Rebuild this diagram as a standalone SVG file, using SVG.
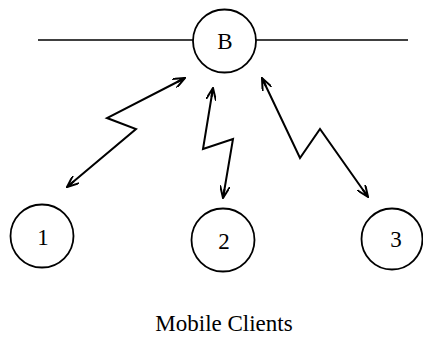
<svg xmlns="http://www.w3.org/2000/svg" width="423" height="339" viewBox="0 0 423 339">
<style>
.node circle{fill:#fff;stroke:#000;stroke-width:1.8}
.lbl{font-family:"Liberation Serif","Times New Roman",serif;font-size:23px;fill:#000;text-anchor:middle}
.wire{fill:none;stroke:#000;stroke-width:1.7}
.zap{fill:none;stroke:#000;stroke-width:2;stroke-linejoin:miter;marker-start:url(#ah);marker-end:url(#ah)}
</style>
<defs>
<marker id="ah" viewBox="0 0 13 10" refX="12" refY="5" markerWidth="13" markerHeight="10" markerUnits="userSpaceOnUse" orient="auto-start-reverse">
<path d="M0,0 L12,5 L0,10 M3,5 L12,5" fill="none" stroke="#000" stroke-width="2"/>
</marker>
</defs>
<g id="connectors">
<line class="wire" x1="38" y1="40" x2="193" y2="40"/>
<line class="wire" x1="256" y1="40" x2="408" y2="40"/>
<polyline class="zap" points="185,78 107,118 136,129 67,187"/>
<polyline class="zap" points="213,88 203,149 233,139 223,198"/>
<polyline class="zap" points="262,78 300,158 320,129 368,197"/>
</g>
<g id="node-B" class="node">
<circle cx="224.5" cy="41" r="31.5"/>
<text class="lbl" x="225" y="49" font-size="24">B</text>
</g>
<g id="node-1" class="node">
<circle cx="42" cy="236" r="31.5"/>
<text class="lbl" x="43" y="245">1</text>
</g>
<g id="node-2" class="node">
<circle cx="223" cy="240" r="31.5"/>
<text class="lbl" x="224" y="249">2</text>
</g>
<g id="node-3" class="node">
<circle cx="392" cy="239" r="30.5"/>
<text class="lbl" x="396" y="247">3</text>
</g>
<text id="caption" class="lbl" x="224" y="331">Mobile Clients</text>
</svg>
